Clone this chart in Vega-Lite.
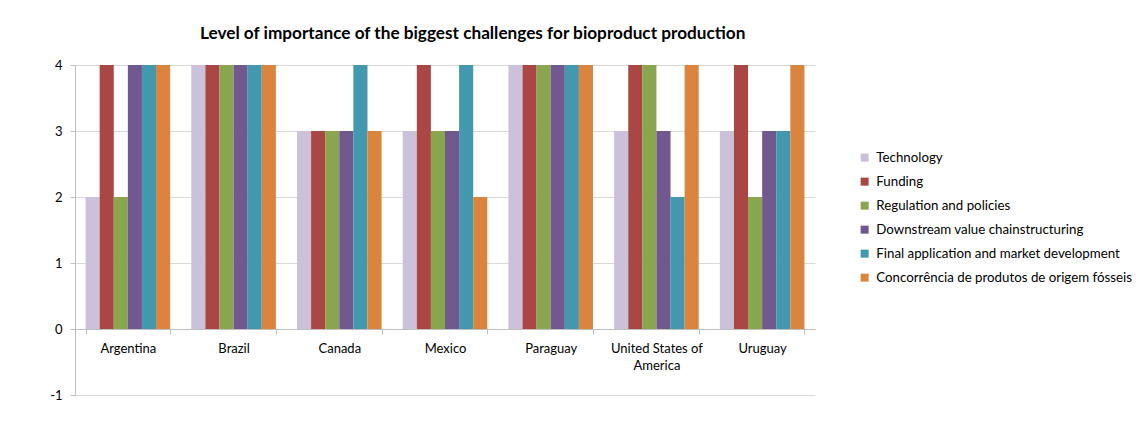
{
  "$schema": "https://vega.github.io/schema/vega-lite/v6.json",
  "autosize": {"type": "none"},
  "width": 740,
  "height": 330,
  "padding": {"left": 75, "top": 65, "right": 321, "bottom": 51},
  "background": "white",
  "title": {"text": "Level of importance of the biggest challenges for bioproduct production", "anchor": "start", "frame": "group", "dx": 125, "offset": 17, "font": "Lato", "fontSize": 17.2, "fontWeight": "bold", "color": "#000000"},
  "data": {"values": [
    {"country": "Argentina", "challenge": "Technology", "level": 2},
    {"country": "Argentina", "challenge": "Funding", "level": 4},
    {"country": "Argentina", "challenge": "Regulation and policies", "level": 2},
    {"country": "Argentina", "challenge": "Downstream value chainstructuring", "level": 4},
    {"country": "Argentina", "challenge": "Final application and market development", "level": 4},
    {"country": "Argentina", "challenge": "Concorrência de produtos de origem fósseis", "level": 4},
    {"country": "Brazil", "challenge": "Technology", "level": 4},
    {"country": "Brazil", "challenge": "Funding", "level": 4},
    {"country": "Brazil", "challenge": "Regulation and policies", "level": 4},
    {"country": "Brazil", "challenge": "Downstream value chainstructuring", "level": 4},
    {"country": "Brazil", "challenge": "Final application and market development", "level": 4},
    {"country": "Brazil", "challenge": "Concorrência de produtos de origem fósseis", "level": 4},
    {"country": "Canada", "challenge": "Technology", "level": 3},
    {"country": "Canada", "challenge": "Funding", "level": 3},
    {"country": "Canada", "challenge": "Regulation and policies", "level": 3},
    {"country": "Canada", "challenge": "Downstream value chainstructuring", "level": 3},
    {"country": "Canada", "challenge": "Final application and market development", "level": 4},
    {"country": "Canada", "challenge": "Concorrência de produtos de origem fósseis", "level": 3},
    {"country": "Mexico", "challenge": "Technology", "level": 3},
    {"country": "Mexico", "challenge": "Funding", "level": 4},
    {"country": "Mexico", "challenge": "Regulation and policies", "level": 3},
    {"country": "Mexico", "challenge": "Downstream value chainstructuring", "level": 3},
    {"country": "Mexico", "challenge": "Final application and market development", "level": 4},
    {"country": "Mexico", "challenge": "Concorrência de produtos de origem fósseis", "level": 2},
    {"country": "Paraguay", "challenge": "Technology", "level": 4},
    {"country": "Paraguay", "challenge": "Funding", "level": 4},
    {"country": "Paraguay", "challenge": "Regulation and policies", "level": 4},
    {"country": "Paraguay", "challenge": "Downstream value chainstructuring", "level": 4},
    {"country": "Paraguay", "challenge": "Final application and market development", "level": 4},
    {"country": "Paraguay", "challenge": "Concorrência de produtos de origem fósseis", "level": 4},
    {"country": "United States of America", "challenge": "Technology", "level": 3},
    {"country": "United States of America", "challenge": "Funding", "level": 4},
    {"country": "United States of America", "challenge": "Regulation and policies", "level": 4},
    {"country": "United States of America", "challenge": "Downstream value chainstructuring", "level": 3},
    {"country": "United States of America", "challenge": "Final application and market development", "level": 2},
    {"country": "United States of America", "challenge": "Concorrência de produtos de origem fósseis", "level": 4},
    {"country": "Uruguay", "challenge": "Technology", "level": 3},
    {"country": "Uruguay", "challenge": "Funding", "level": 4},
    {"country": "Uruguay", "challenge": "Regulation and policies", "level": 2},
    {"country": "Uruguay", "challenge": "Downstream value chainstructuring", "level": 3},
    {"country": "Uruguay", "challenge": "Final application and market development", "level": 3},
    {"country": "Uruguay", "challenge": "Concorrência de produtos de origem fósseis", "level": 4}
  ]},
  "mark": {"type": "bar", "orient": "vertical"},
  "encoding": {
    "x": {
      "field": "country", "type": "nominal", "sort": null,
      "scale": {"paddingInner": 0.2, "paddingOuter": 0.1},
      "axis": {
        "title": null, "offset": -66, "labelAngle": 0, "labelFont": "Lato", "labelFontSize": 13, "labelColor": "#000000",
        "labelPadding": 8, "tickBand": "extent", "tickSize": 5, "tickColor": "#bfbfbf", "domainColor": "#bfbfbf",
        "labelExpr": "datum.label == 'United States of America' ? ['United States of', 'America'] : datum.label",
        "labelLineHeight": 17, "labelBaseline": "top"
      }
    },
    "xOffset": {
      "field": "challenge", "type": "nominal",
      "sort": ["Technology", "Funding", "Regulation and policies", "Downstream value chainstructuring", "Final application and market development", "Concorrência de produtos de origem fósseis"],
      "scale": {"paddingInner": 0, "paddingOuter": 0}
    },
    "y": {
      "field": "level", "type": "quantitative",
      "scale": {"domain": [-1, 4], "nice": false, "zero": false},
      "axis": {
        "title": null, "values": [-1, 0, 1, 2, 3, 4], "labelFont": "Lato", "labelFontSize": 13, "labelColor": "#000000",
        "labelExpr": "'' + datum.value",
        "tickSize": 5, "tickColor": "#bfbfbf", "domainColor": "#bfbfbf", "gridColor": "#d9d9d9", "labelPadding": 8
      }
    },
    "y2": {"datum": 0},
    "color": {
      "field": "challenge", "type": "nominal",
      "scale": {
        "domain": ["Technology", "Funding", "Regulation and policies", "Downstream value chainstructuring", "Final application and market development", "Concorrência de produtos de origem fósseis"],
        "range": ["#ccc1da", "#aa4643", "#89a54e", "#71588f", "#4198af", "#db843d"]
      },
      "legend": {
        "title": null, "orient": "none", "legendX": 783, "legendY": 86,
        "symbolType": "square", "symbolSize": 64, "symbolStrokeWidth": 0,
        "labelFont": "Lato", "labelFontSize": 13.3, "labelColor": "#000000", "labelLimit": 400,
        "rowPadding": 10, "labelOffset": 5
      }
    }
  },
  "config": {"view": {"stroke": null}}
}
